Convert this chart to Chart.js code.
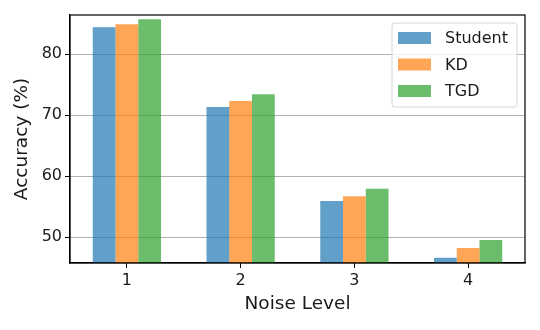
<!DOCTYPE html>
<html lang="en">
<head>
    <meta charset="UTF-8">
    <title>Accuracy vs Noise Level</title>
    <script src="https://cdn.jsdelivr.net/npm/chart.js"></script>
    <style>
        html, body {
            margin: 0;
            padding: 0;
            background: #ffffff;
        }

        #wrap {
            width: 540px;
            height: 330px;
        }
    </style>
</head>
<body>
    <div id="wrap">
        <canvas id="accChart"></canvas>
    </div>

    <script>
        // data
        const noiseLevels = ['1', '2', '3', '4'];
        const studentAcc = [84.4, 71.3, 55.9, 46.6];
        const kdAcc = [84.9, 72.3, 56.7, 48.2];
        const tgdAcc = [85.7, 73.4, 57.9, 49.5];
        const yTicks = [50, 60, 70, 80];

        const FONT = "'DejaVu Sans', sans-serif";

        // legend box drawn in the top right corner, matplotlib style
        const boxLegend = {
            id: 'boxLegend',
            afterDraw(chart) {
                const ctx = chart.ctx;
                const area = chart.chartArea;
                const x = area.right - 133;
                const y = area.top + 8;
                const w = 125;
                const h = 84;

                ctx.save();
                ctx.beginPath();
                ctx.roundRect(x, y, w, h, 3);
                ctx.fillStyle = 'rgba(255,255,255,0.8)';
                ctx.fill();
                ctx.strokeStyle = '#d6d6d6';
                ctx.lineWidth = 1;
                ctx.stroke();

                ctx.font = '16px ' + FONT;
                ctx.textBaseline = 'middle';
                chart.data.datasets.forEach((ds, i) => {
                    const cy = y + 15 + i * 26.5;
                    ctx.fillStyle = ds.backgroundColor;
                    ctx.fillRect(x + 6, cy - 6, 33, 12);
                    ctx.fillStyle = '#1a1a1a';
                    ctx.fillText(ds.label, x + 53, cy + 1);
                });

                // full black frame
                ctx.strokeStyle = '#000';
                ctx.lineWidth = 1.2;
                ctx.strokeRect(area.left, area.top, area.right - area.left, area.bottom - area.top);
                ctx.restore();
            }
        };

        const ctx = document.getElementById('accChart').getContext('2d');
        const accChart = new Chart(ctx, {
            type: 'bar',
            data: {
                labels: noiseLevels,
                datasets: [
                    { label: 'Student', data: studentAcc, backgroundColor: 'rgba(31,119,180,0.7)' },
                    { label: 'KD', data: kdAcc, backgroundColor: 'rgba(255,127,14,0.7)' },
                    { label: 'TGD', data: tgdAcc, backgroundColor: 'rgba(44,160,44,0.7)' }
                ]
            },
            options: {
                responsive: true,
                maintainAspectRatio: false,
                animation: false,
                layout: {
                    padding: { top: 15, right: 15, left: 11, bottom: 15 }
                },
                datasets: {
                    bar: {
                        categoryPercentage: 0.6,
                        barPercentage: 1.0,
                        borderWidth: 0
                    }
                },
                plugins: {
                    legend: { display: false },
                    tooltip: { enabled: false }
                },
                scales: {
                    x: {
                        grid: {
                            offset: false,
                            drawOnChartArea: false,
                            tickLength: 5,
                            tickColor: '#000'
                        },
                        border: { color: '#000', width: 1.2 },
                        ticks: {
                            color: '#1a1a1a',
                            font: { family: FONT, size: 16 },
                            padding: 3
                        },
                        title: {
                            display: true,
                            text: 'Noise Level',
                            color: '#1a1a1a',
                            font: { family: FONT, size: 18.5 },
                            padding: { top: 2, bottom: 0 }
                        },
                        afterFit(scale) {
                            scale.height = 52;
                        }
                    },
                    y: {
                        min: 45.75,
                        max: 86.4,
                        afterBuildTicks(scale) {
                            scale.ticks = yTicks.map(v => ({ value: v }));
                        },
                        grid: {
                            color: '#b0b0b0',
                            lineWidth: 1,
                            tickLength: 5,
                            tickColor: '#000'
                        },
                        border: { color: '#000', width: 1.2 },
                        ticks: {
                            color: '#1a1a1a',
                            font: { family: FONT, size: 16 },
                            padding: 3
                        },
                        title: {
                            display: true,
                            text: 'Accuracy (%)',
                            color: '#1a1a1a',
                            font: { family: FONT, size: 18.5 },
                            padding: { top: 0, bottom: 6 }
                        },
                        afterFit(scale) {
                            scale.width = 59;
                        }
                    }
                }
            },
            plugins: [boxLegend]
        });
    </script>
</body>
</html>
